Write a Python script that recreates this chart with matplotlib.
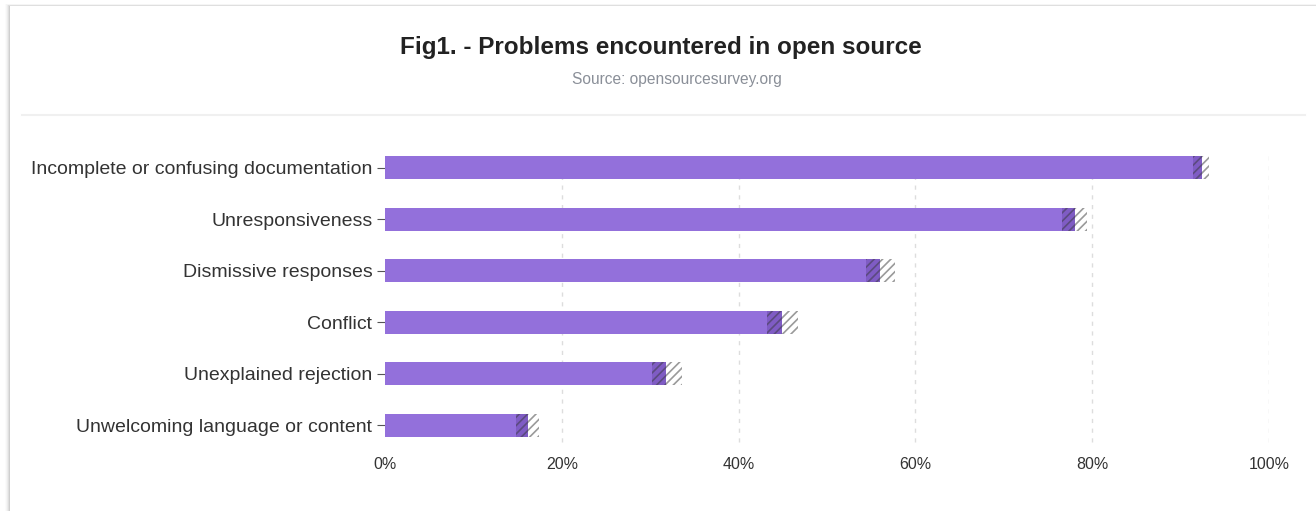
import matplotlib.pyplot as plt
from matplotlib.patches import Rectangle
from matplotlib.ticker import FuncFormatter

categories = [
    "Incomplete or confusing documentation",
    "Unresponsiveness",
    "Dismissive responses",
    "Conflict",
    "Unexplained rejection",
    "Unwelcoming language or content",
]
values = [92.4, 78.0, 56.0, 44.9, 31.8, 16.2]
ci_low = [91.4, 76.6, 54.4, 43.2, 30.2, 14.8]
ci_high = [93.2, 79.4, 57.7, 46.7, 33.6, 17.4]
x_ticks = [0, 20, 40, 60, 80, 100]

BAR_COLOR = "#9370db"
TEXT_COLOR = "#333333"
GRID_COLOR = "#dddddd"

plt.rcParams["font.family"] = ["Liberation Sans", "DejaVu Sans"]
plt.rcParams["hatch.linewidth"] = 1.2

W, H = 1316, 511
fig = plt.figure(figsize=(W / 100, H / 100), dpi=100)
fig.patch.set_facecolor("#ffffff")

# card with a soft shadow on the left/top
for i, a in enumerate([0.015, 0.025, 0.035, 0.05, 0.07]):
    off = 5 - i
    fig.patches.append(Rectangle(((10 - off) / W, 0), 1.0, (H - 6 + off * 0.4) / H,
                                 transform=fig.transFigure, facecolor="black",
                                 alpha=a, edgecolor="none", zorder=-3))
fig.patches.append(Rectangle((10 / W, 0), 1.0, (H - 6) / H, transform=fig.transFigure,
                             facecolor="white", edgecolor="none", zorder=-2))

fig.text(661 / W, 1 - 47 / H, "Fig1. - Problems encountered in open source",
         ha="center", va="center", fontsize=17.5, fontweight="bold", color="#222222")
fig.text(677 / W, 1 - 79 / H, "Source: opensourcesurvey.org",
         ha="center", va="center", fontsize=11.2, color="#8a8f98")
fig.add_artist(plt.Line2D([22 / W, 1305 / W], [1 - 115 / H, 1 - 115 / H],
                          transform=fig.transFigure, color="#f0f0f0", linewidth=1.5))

ax = fig.add_axes([385 / W, 1 - 451 / H, (1269 - 385) / W, (451 - 142) / H])
ax.set_zorder(5)
ax.set_facecolor("none")
ypos = list(range(len(categories)))[::-1]
bar_h = 0.44

ax.barh(ypos, values, height=bar_h, color=BAR_COLOR, zorder=2)
lo_w = [v - l for v, l in zip(values, ci_low)]
hi_w = [h - v for v, h in zip(values, ci_high)]
ax.barh(ypos, lo_w, left=ci_low, height=bar_h, color="#7f5cc4",
        edgecolor="#5b4a80", hatch="////", linewidth=0, zorder=3)
ax.barh(ypos, hi_w, left=values, height=bar_h, color="white",
        edgecolor="#9a9a9a", hatch="////", linewidth=0, zorder=3)

ax.set_xlim(0, 100)
ax.set_ylim(-0.5, len(categories) - 0.5)
ax.set_xticks(x_ticks)
ax.xaxis.set_major_formatter(FuncFormatter(lambda v, _: f"{v:.0f}%"))
ax.set_yticks(ypos)
ax.set_yticklabels(categories)
for x in x_ticks[1:]:
    ax.axvline(x, color=GRID_COLOR, linestyle=(0, (3, 4)), linewidth=1,
               ymin=0.03, ymax=0.97, zorder=1)

for s in ax.spines.values():
    s.set_visible(False)
ax.tick_params(axis="x", length=0, pad=4, labelsize=11.5, labelcolor=TEXT_COLOR)
ax.tick_params(axis="y", length=6, width=0.8, color="#555555", pad=3,
               labelsize=14, labelcolor=TEXT_COLOR)

fig.savefig("out.png", dpi=100)
